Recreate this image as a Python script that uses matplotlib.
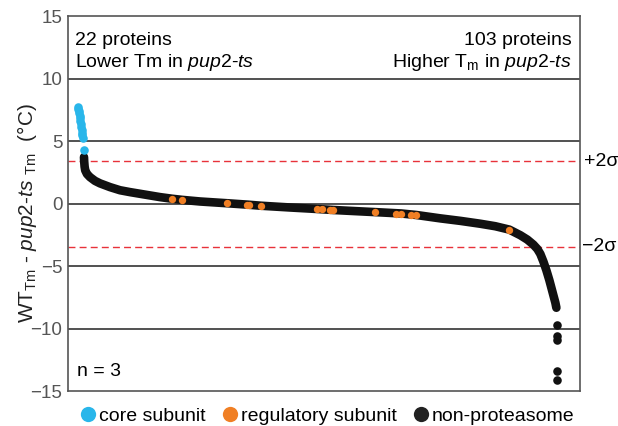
import matplotlib
matplotlib.use('Agg')
import matplotlib.pyplot as plt
from matplotlib.lines import Line2D

plt.rcParams['font.family'] = ['Liberation Sans', 'DejaVu Sans']
plt.rcParams['mathtext.fontset'] = 'custom'
plt.rcParams['mathtext.rm'] = 'Liberation Sans'
plt.rcParams['mathtext.it'] = 'Liberation Sans:italic'

# protein rank (sorted by delta Tm) and WT Tm - pup2-ts Tm (deg C)
core_rank = [0, 2, 4, 6, 8, 10, 12, 14, 16, 18, 20, 22, 24, 30]
core_dtm = [7.75, 7.6, 7.45, 7.25, 7.05, 6.85, 6.65, 6.4, 6.15, 5.95, 5.7, 5.5, 5.3, 4.3]

reg_rank = [470, 520, 745, 845, 855, 915, 1195, 1220, 1260, 1275, 1485, 1590, 1615, 1665, 1690, 2155]
reg_dtm = [0.4, 0.32, 0.08, -0.06, -0.07, -0.15, -0.4, -0.42, -0.46, -0.48, -0.64,
           -0.78, -0.8, -0.86, -0.9, -2.08]

other_rank = [30, 31, 33, 36, 45, 60, 85, 110, 160, 210, 260, 335, 410, 470, 520, 610,
              745, 845, 915, 1060, 1195, 1275, 1360, 1485, 1615, 1690, 1810, 1910, 2010,
              2085, 2155, 2210, 2245, 2275, 2295, 2310, 2325, 2340, 2355, 2365, 2375,
              2385, 2390]
other_dtm = [3.75, 3.4, 3.0, 2.7, 2.4, 2.15, 1.85, 1.65, 1.35, 1.1, 0.95, 0.75, 0.55, 0.42,
             0.33, 0.2, 0.06, -0.05, -0.14, -0.28, -0.4, -0.48, -0.55, -0.65, -0.76, -0.88,
             -1.15, -1.35, -1.58, -1.78, -2.05, -2.5, -2.85, -3.25, -3.6, -4.0, -4.6, -5.3,
             -6.1, -6.7, -7.3, -7.9, -8.3]
outlier_rank = [2395, 2395, 2395, 2395, 2395]
outlier_dtm = [-9.7, -10.6, -10.9, -13.4, -14.1]

sigma2 = 3.43
blue = '#29b6ea'
orange = '#f07f24'
black = '#111111'

fig = plt.figure(figsize=(6.18, 4.26), dpi=100)
ax = fig.add_axes([0.110, 0.081, 0.8285, 0.8803])

for yv in [10, 5, 0, -5, -10]:
    ax.axhline(yv, color='#333333', lw=1.2, zorder=1)
ax.axhline(sigma2, color='#e8323a', lw=1, ls=(0, (5, 3)), zorder=1)
ax.axhline(-sigma2, color='#e8323a', lw=1, ls=(0, (5, 3)), zorder=1)

ax.plot(other_rank, other_dtm, color=black, lw=6.2, solid_capstyle='round',
        solid_joinstyle='round', zorder=2)
ax.scatter(outlier_rank, outlier_dtm, s=38, color=black, lw=0, zorder=2)
ax.scatter(core_rank, core_dtm, s=38, color=blue, lw=0, zorder=3)
ax.scatter(reg_rank, reg_dtm, s=28, color=orange, lw=0, zorder=3)

ax.set_xlim(-50, 2508)
ax.set_ylim(-15, 15)
ax.set_yticks([-15, -10, -5, 0, 5, 10, 15])
ax.set_xticks([])
ax.tick_params(axis='y', length=0, pad=4, labelsize=13.5, labelcolor='#555555')
for sp in ax.spines.values():
    sp.set_color('#555555')
    sp.set_linewidth(1.2)

fig.text(27 / 618, 1 - 213 / 426,
         r'WT$_{\mathrm{Tm}}$ - $\it{pup2}$-$\it{ts}$ $_{\mathrm{Tm}}$  (°C)',
         rotation=90, ha='center', va='center', fontsize=15, color='#222222')

ax.text(0.014, 0.958, '22 proteins\nLower Tm in $\\it{pup2}$-$\\it{ts}$',
        transform=ax.transAxes, ha='left', va='top', fontsize=14, linespacing=1.2)
ax.text(0.984, 0.958, '103 proteins\nHigher T$_{\\mathrm{m}}$ in $\\it{pup2}$-$\\it{ts}$',
        transform=ax.transAxes, ha='right', va='top', fontsize=14, linespacing=1.2)
ax.text(0.018, 0.03, 'n = 3', transform=ax.transAxes, ha='left', va='bottom', fontsize=14)

ax.text(1.008, sigma2, '+2σ', transform=ax.get_yaxis_transform(), ha='left',
        va='center', fontsize=14)
ax.text(1.003, -sigma2, '−2σ', transform=ax.get_yaxis_transform(), ha='left',
        va='center', fontsize=14)

handles = [Line2D([], [], ls='', marker='o', ms=11, color=c, mec='none')
           for c in (blue, orange, '#222222')]
fig.legend(handles, ['core subunit', 'regulatory subunit', 'non-proteasome'],
           loc='center', bbox_to_anchor=(0.528, 1 - 416 / 426), ncol=3, frameon=False,
           fontsize=14, handletextpad=0.05, columnspacing=0.75, handlelength=1.0,
           borderpad=0)

fig.savefig('out.png', dpi=100)
